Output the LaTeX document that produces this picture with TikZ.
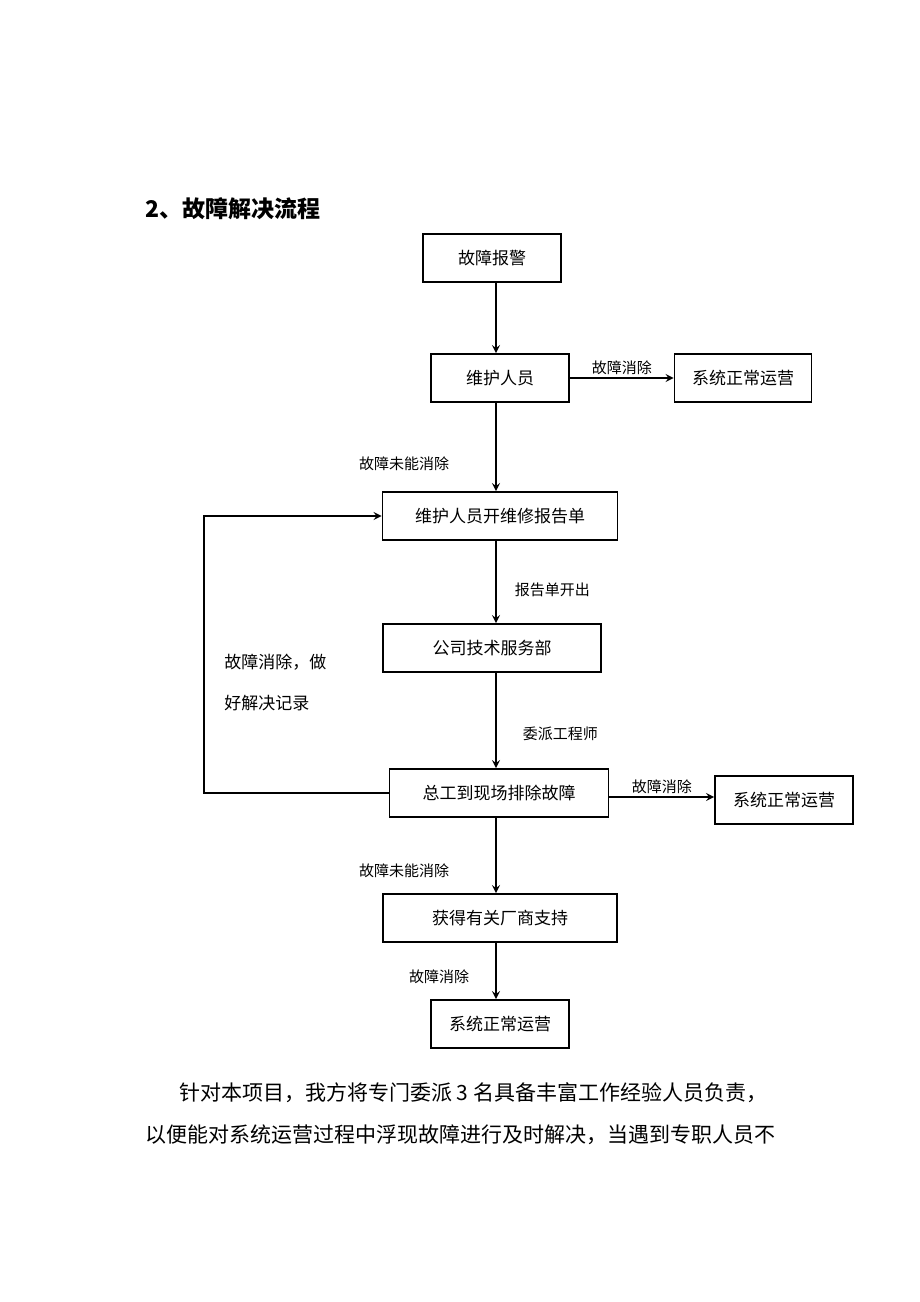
\documentclass[tikz,border=0pt]{standalone}
\usepackage{fontspec}
\setmainfont{Noto Sans CJK SC}
\usetikzlibrary{positioning}
\tikzset{>=stealth,
  box/.style={draw,thick,inner sep=0pt,font=\fontsize{8.5}{10}\selectfont},
  lbl/.style={font=\fontsize{7.5}{9}\selectfont,inner sep=1pt},
  flow/.style={thick,->}}

\begin{document}
\begin{tikzpicture}[x=0.5pt,y=-0.5pt]
      \useasboundingbox (0,0) rectangle (920,1302);
      \node[anchor=west,font=\fontsize{11.5}{13}\selectfont\bfseries] (title) at (138,209) {2、故障解决流程};
      \node[box,minimum width=69pt,minimum height=24pt] (alarm) at (492,258) {故障报警};
      \node[box,minimum width=69pt,minimum height=24pt] (staff) at (500,378) {维护人员};
      \node[box,minimum width=68.5pt,minimum height=24pt] (okA) at (743,378) {系统正常运营};
      \node[box,minimum width=117.5pt,minimum height=24pt] (report) at (500,516) {维护人员开维修报告单};
      \node[box,minimum width=109pt,minimum height=24pt] (dept) at (492,648) {公司技术服务部};
      \node[box,minimum width=109.5pt,minimum height=24pt] (chief) at (499,793) {总工到现场排除故障};
      \node[box,minimum width=69pt,minimum height=24pt] (okB) at (784,800) {系统正常运营};
      \node[box,minimum width=117pt,minimum height=24pt] (vendor) at (500,918) {获得有关厂商支持};
      \node[box,minimum width=69pt,minimum height=24pt] (okC) at (500,1024) {系统正常运营};
      % connectors
      \draw[flow] (alarm.south -| 496,0) -- (staff.north -| 496,0);
      \draw[flow] (staff) -- node[lbl,above] {故障消除} (okA);
      \draw[flow] (staff.south -| 496,0) -- node[lbl,left=22pt,yshift=-8.5pt] {故障未能消除} (report.north -| 496,0);
      \draw[flow] (report.south -| 496,0) -- node[lbl,right=8pt,yshift=-4pt] {报告单开出} (dept.north -| 496,0);
      \draw[flow] (dept.south -| 496,0) -- node[lbl,right=12pt,yshift=-6.5pt] {委派工程师} (chief.north -| 496,0);
      \draw[flow] (chief.east |- 0,797) -- node[lbl,above] {故障消除} (okB.west |- 0,797);
      \draw[flow] (chief.west) -- (204,793) -- (204,516) -- (report.west);
      \node[lbl,anchor=west,align=left,font=\fontsize{8.5}{20.5}\selectfont] (loopnote) at (222,682) {故障消除，做\\好解决记录};
      \draw[flow] (chief.south -| 496,0) -- node[lbl,left=22pt,yshift=-7.5pt] {故障未能消除} (vendor.north -| 496,0);
      \draw[flow] (vendor.south -| 496,0) -- node[lbl,left=12pt,yshift=-3pt] {故障消除} (okC.north -| 496,0);
      % paragraph
      \node[anchor=west,font=\fontsize{10.5}{21}\selectfont] (para1) at (172,1093) {针对本项目，我方将专门委派 3 名具备丰富工作经验人员负责，};
      \node[anchor=west,font=\fontsize{10.5}{21}\selectfont] (para2) at (138,1135) {以便能对系统运营过程中浮现故障进行及时解决，当遇到专职人员不};
\end{tikzpicture}
\end{document}
